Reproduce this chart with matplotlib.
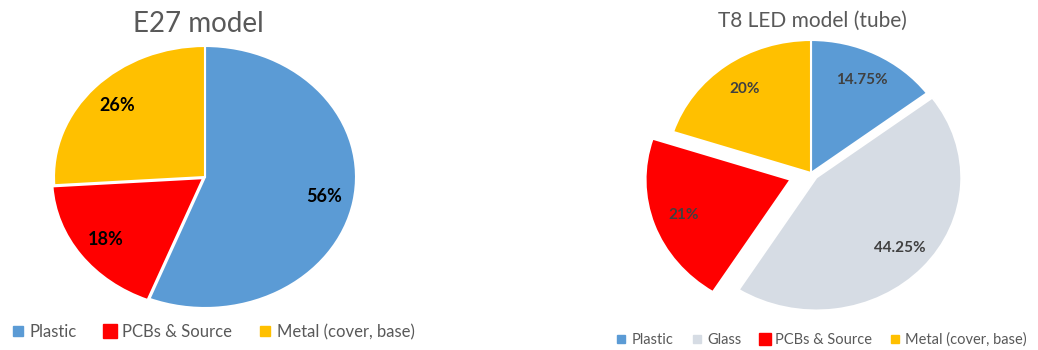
import matplotlib
matplotlib.use('Agg')
import matplotlib.pyplot as plt
from matplotlib.lines import Line2D

plt.rcParams['font.family'] = ['Lato', 'DejaVu Sans']

# 数据
e27_labels = ['Plastic', 'PCBs & Source', 'Metal (cover, base)']
e27_values = [56, 18, 26]
e27_colors = ['#5B9BD5', '#FF0000', '#FFC000']
e27_explode = [0, 0.015, 0]

t8_labels = ['Plastic', 'Glass', 'PCBs & Source', 'Metal (cover, base)']
t8_values = [14.75, 44.25, 21, 20]
t8_colors = ['#5B9BD5', '#D6DCE4', '#FF0000', '#FFC000']
t8_explode = [0, 0.05, 0.15, 0]

W, H = 1038, 350
fig = plt.figure(figsize=(W / 100, H / 100), dpi=100)

def pie_axes(cx, cy, rx, ry, lim=1.4):
    # cx, cy: pixel centre (y from top); rx, ry: pixel radius
    left = (cx - rx * lim) / W
    bottom = (H - cy - ry * lim) / H
    ax = fig.add_axes([left, bottom, 2 * rx * lim / W, 2 * ry * lim / H])
    ax.axis('off')
    return ax

def pct(p):
    return '%g%%' % round(p, 2)

# 左图 E27
ax1 = pie_axes(205, 177, 151, 131)
ax1.pie(e27_values, colors=e27_colors, explode=e27_explode, startangle=90,
        counterclock=False, autopct=pct, pctdistance=0.8,
        wedgeprops={'edgecolor': 'white', 'linewidth': 1.5},
        textprops={'fontsize': 13, 'fontweight': 'bold', 'color': 'black'})
ax1.set_aspect('auto')
ax1.set_xlim(-1.4, 1.4)
ax1.set_ylim(-1.4, 1.4)
fig.text(198 / W, 1 - 24 / H, 'E27 model', ha='center', va='center',
         fontsize=20, color='#595959')

# 右图 T8
ax2 = pie_axes(811, 173, 145, 133)
ax2.pie(t8_values, colors=t8_colors, explode=t8_explode, startangle=90,
        counterclock=False, autopct=pct, pctdistance=0.78,
        wedgeprops={'edgecolor': 'white', 'linewidth': 1.5},
        textprops={'fontsize': 11, 'fontweight': 'bold', 'color': '#404040'})
ax2.set_aspect('auto')
ax2.set_xlim(-1.4, 1.4)
ax2.set_ylim(-1.4, 1.4)
fig.text(812 / W, 1 - 21 / H, 'T8 LED model (tube)', ha='center', va='center',
         fontsize=15, color='#595959')

# 图例
def handles(labels, colors, big, small=6.5):
    hs = []
    for lab, c in zip(labels, colors):
        ms = small * 1.5 if lab == big else small
        hs.append(Line2D([], [], marker='s', linestyle='none', markersize=ms,
                         markerfacecolor=c, markeredgecolor=c, label=lab))
    return hs

fig.legend(handles=handles(e27_labels, e27_colors, 'PCBs & Source'),
           loc='center', bbox_to_anchor=(214 / W, 1 - 332 / H), ncol=3,
           frameon=False, fontsize=12, labelcolor='#595959',
           handlelength=0.6, handletextpad=0.4, columnspacing=1.7)
fig.legend(handles=handles(t8_labels, t8_colors, 'PCBs & Source', 6),
           loc='center', bbox_to_anchor=(822 / W, 1 - 340 / H), ncol=4,
           frameon=False, fontsize=10.5, labelcolor='#595959',
           handlelength=0.6, handletextpad=0.4, columnspacing=1.3)

fig.savefig('out.png', dpi=100, facecolor='white')
